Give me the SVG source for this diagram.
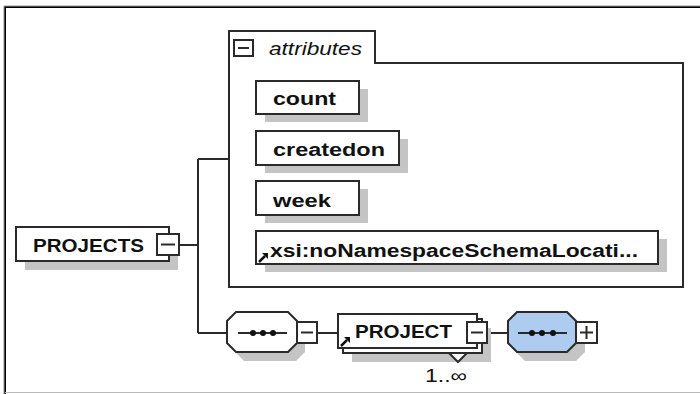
<svg xmlns="http://www.w3.org/2000/svg" xmlns:xlink="http://www.w3.org/1999/xlink" width="700" height="394" viewBox="0 0 700 394">
<style>
.box{fill:#fff;stroke:#2a2a2a;stroke-width:2}
.sh{fill:#c4c4c4}
.ln{fill:none;stroke:#2a2a2a;stroke-width:2}
.t{font-family:"Liberation Sans",Arial,sans-serif;font-weight:bold;font-size:18px;fill:#111}
.it{font-family:"Liberation Sans",Arial,sans-serif;font-style:italic;font-size:18px;fill:#111}
.n{font-family:"Liberation Sans",Arial,sans-serif;font-size:18px;fill:#111}
.dot{fill:#111}
</style>
<defs>
<g id="link">
<path d="M0,9 L6,3" stroke="#111" stroke-width="2.5" fill="none"/>
<polygon points="3,0 9,0 9,6" fill="#111"/>
</g>
<g id="minus">
<rect x="0" y="0" width="20" height="21" class="box"/>
<path d="M4,10.5 H16" class="ln"/>
</g>
</defs>

<g id="frame">
<path d="M5,394 V7 H700" fill="none" stroke="#000" stroke-width="2"/>
<path d="M4,394 V6 H700" fill="none" stroke="#999" stroke-width="1"/>
<path d="M5,392.5 H700" fill="none" stroke="#bbb" stroke-width="1"/>
</g>

<g id="connectors">
<path d="M179,245 H198" class="ln"/>
<path d="M198,159 V333" class="ln"/>
<path d="M198,159 H229" class="ln"/>
<path d="M198,333 H227" class="ln"/>
<path d="M317,333 H338" class="ln"/>
<path d="M487,333 H508" class="ln"/>
</g>

<g id="attributes">
<path d="M229,287 V31 H375 V63 H683 V287 Z" fill="#fff" stroke="#2a2a2a" stroke-width="2"/>
<rect x="234" y="40" width="19" height="16" class="box"/>
<path d="M238,48 H249" class="ln"/>
<text x="269" y="55" class="it" textLength="93" lengthAdjust="spacingAndGlyphs">attributes</text>
</g>

<g id="count">
<rect x="265" y="89" width="103" height="33" class="sh"/>
<rect x="256" y="81" width="103" height="33" class="box"/>
<text x="273" y="105" class="t" textLength="63" lengthAdjust="spacingAndGlyphs">count</text>
</g>

<g id="createdon">
<rect x="265" y="139" width="143" height="34" class="sh"/>
<rect x="256" y="131" width="143" height="34" class="box"/>
<text x="273" y="156" class="t" textLength="112" lengthAdjust="spacingAndGlyphs">createdon</text>
</g>

<g id="week">
<rect x="265" y="189" width="103" height="34" class="sh"/>
<rect x="256" y="181" width="103" height="34" class="box"/>
<text x="273" y="207" class="t" textLength="58" lengthAdjust="spacingAndGlyphs">week</text>
</g>

<g id="xsi">
<rect x="265" y="239" width="402" height="33" class="sh"/>
<rect x="256" y="231" width="402" height="33" class="box"/>
<use xlink:href="#link" x="259" y="253"/>
<text x="270" y="257" class="t" textLength="368" lengthAdjust="spacingAndGlyphs">xsi:noNamespaceSchemaLocati...</text>
</g>

<g id="PROJECTS">
<rect x="25" y="236" width="153" height="34" class="sh"/>
<rect x="16" y="227" width="153" height="34" class="box"/>
<text x="33" y="252" class="t" textLength="111" lengthAdjust="spacingAndGlyphs">PROJECTS</text>
<rect x="157" y="234" width="22" height="21" class="box"/>
<path d="M161,244.5 H175" class="ln"/>
</g>

<g id="sequence1">
<polygon points="244,321 296,321 305,330 305,352 296,361 244,361 235,352 235,330" class="sh"/>
<polygon points="236,312 288,312 297,321 297,343 288,352 236,352 227,343 227,321" class="box"/>
<path d="M238,333 H287" class="ln"/>
<circle cx="253" cy="333" r="3" class="dot"/>
<circle cx="263" cy="333" r="3" class="dot"/>
<circle cx="273" cy="333" r="3" class="dot"/>
<use xlink:href="#minus" x="297" y="322"/>
</g>

<g id="PROJECT">
<rect x="352" y="328" width="139" height="34" class="sh"/>
<rect x="343" y="319" width="139" height="34" class="box"/>
<rect x="338" y="314" width="139" height="34" class="box"/>
<use xlink:href="#link" x="341" y="337"/>
<text x="355" y="338" class="t" textLength="97" lengthAdjust="spacingAndGlyphs">PROJECT</text>
<use xlink:href="#minus" x="467" y="322"/>
<polygon points="449,353 467,353 458,362" class="box"/>
<text x="425" y="382" class="n" textLength="42" lengthAdjust="spacingAndGlyphs">1..∞</text>
</g>

<g id="sequence2">
<polygon points="525,321 576,321 585,330 585,352 576,361 525,361 516,352 516,330" class="sh"/>
<polygon points="517,312 567,312 576,321 576,343 567,352 517,352 508,343 508,321" fill="#aecbf0" stroke="#2a2a2a" stroke-width="2"/>
<path d="M518,333 H567" class="ln"/>
<circle cx="532" cy="333" r="3" class="dot"/>
<circle cx="542" cy="333" r="3" class="dot"/>
<circle cx="553" cy="333" r="3" class="dot"/>
<rect x="576" y="322" width="21" height="21" class="box"/>
<path d="M580,332.5 H593 M586.5,326 V339" class="ln"/>
</g>
</svg>
